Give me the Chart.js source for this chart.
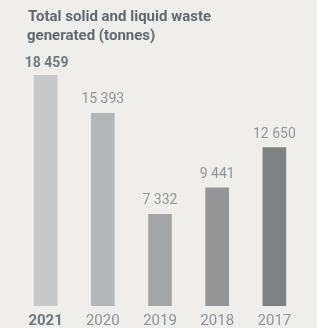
<!DOCTYPE html>
<html lang="en">
<head>
<meta charset="UTF-8">
<title>Waste</title>
<script src="https://cdn.jsdelivr.net/npm/chart.js"></script>
<style>
    html, body { margin: 0; padding: 0; background: #ffffff; }
    #wrap { width: 317px; height: 328px; background: #efeeeb; }
</style>
</head>
<body>
<div id="wrap"><canvas id="myChart"></canvas></div>
<script>
    const anos = ['2021', '2020', '2019', '2018', '2017'];
    const toneladas = [18459, 15393, 7332, 9441, 12650];
    const rotulos = ['18 459', '15 393', '7 332', '9 441', '12 650'];
    const titulo = ['Total solid and liquid waste', 'generated (tonnes)'];
    const cores = ['#c7c8ca', '#b5b6b8', '#a4a5a7', '#949597', '#808183'];

    // title + value labels drawn on the canvas
    const textos = {
        id: 'textos',
        afterDatasetsDraw(chart) {
            const ctx = chart.ctx;
            ctx.save();
            ctx.fillStyle = '#5e6972';
            ctx.font = 'bold 15px Roboto';
            ctx.textAlign = 'left';
            ctx.textBaseline = 'alphabetic';
            ctx.fillText(titulo[0], 28, 21);
            ctx.fillText(titulo[1], 27, 40);

            const meta = chart.getDatasetMeta(0);
            ctx.textAlign = 'center';
            meta.data.forEach(function (bar, i) {
                if (i === 0) {
                    ctx.font = 'bold 14px Roboto';
                    ctx.fillStyle = '#6f7a82';
                    ctx.fillText(rotulos[i], bar.x + 1, bar.y - 8);
                } else {
                    ctx.font = '14px Roboto';
                    ctx.fillStyle = '#8f969c';
                    ctx.fillText(rotulos[i], bar.x, bar.y - 10);
                }
            });
            ctx.restore();
        }
    };

    new Chart(document.getElementById('myChart'), {
        type: 'bar',
        data: {
            labels: anos,
            datasets: [{
                data: toneladas,
                backgroundColor: cores,
                barThickness: 23,
                borderWidth: 0
            }]
        },
        options: {
            responsive: true,
            maintainAspectRatio: false,
            animation: false,
            layout: { padding: { left: 17, right: 14, top: 75, bottom: -8 } },
            plugins: {
                legend: { display: false },
                tooltip: { enabled: false }
            },
            scales: {
                y: { display: false, min: 0, max: 18459 },
                x: {
                    grid: { display: false, drawTicks: false },
                    border: { display: false },
                    ticks: {
                        padding: 6,
                        color: function (c) { return c.index === 0 ? '#6b7781' : '#8a949b'; },
                        font: function (c) {
                            return c.index === 0
                                ? { family: 'Roboto', size: 15, weight: 'bold' }
                                : { family: 'Roboto', size: 15 };
                        }
                    }
                }
            }
        },
        plugins: [textos]
    });
</script>
</body>
</html>
